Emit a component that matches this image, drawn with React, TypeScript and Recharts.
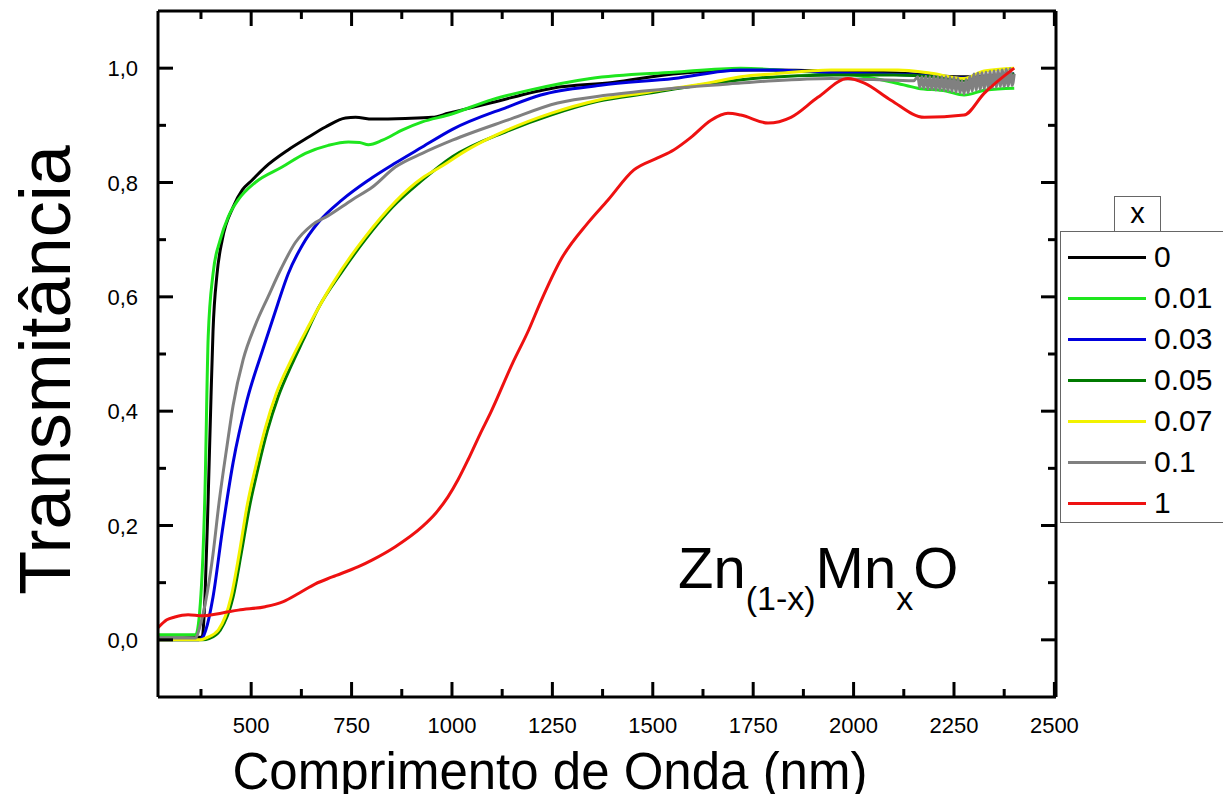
import React from 'react';
import { LineChart, Line, XAxis, YAxis, Legend } from 'recharts';

// [comprimento de onda (nm), transmitância]
const curveX0 = [
  [270, 0.003], [330, 0.003], [378, 0.005], [385, 0.075], [393, 0.25], [400, 0.425],
  [405, 0.54], [415, 0.64], [428, 0.7], [455, 0.757], [478, 0.787], [502, 0.804],
  [535, 0.827], [592, 0.857], [642, 0.879], [685, 0.897], [735, 0.913], [760, 0.914],
  [802, 0.911], [884, 0.912], [951, 0.914], [991, 0.921], [1100, 0.94], [1250, 0.965],
  [1400, 0.975], [1550, 0.99], [1750, 0.997], [1950, 0.995], [2150, 0.99], [2270, 0.985],
  [2400, 0.99],
];
const curveX001 = [
  [270, 0.009], [362, 0.009], [375, 0.08], [385, 0.26], [393, 0.53], [405, 0.64],
  [423, 0.7], [443, 0.74], [468, 0.77], [510, 0.8], [577, 0.827], [635, 0.851],
  [692, 0.865], [742, 0.871], [770, 0.87], [792, 0.866], [827, 0.874], [877, 0.892],
  [926, 0.906], [991, 0.918], [1100, 0.945], [1196, 0.962], [1345, 0.982], [1552, 0.993],
  [1719, 1.0], [1850, 0.995], [2000, 0.988], [2100, 0.975], [2160, 0.965], [2230, 0.96],
  [2275, 0.953], [2330, 0.962], [2400, 0.965],
];
const curveX003 = [
  [270, 0.0], [370, 0.0], [380, 0.005], [387, 0.017], [405, 0.075], [428, 0.19],
  [455, 0.31], [490, 0.42], [530, 0.51], [565, 0.585], [592, 0.64], [627, 0.69],
  [667, 0.73], [727, 0.77], [792, 0.804], [859, 0.834], [926, 0.862], [1001, 0.893],
  [1138, 0.932], [1221, 0.953], [1370, 0.97], [1552, 0.982], [1719, 0.997], [1800, 0.997],
  [1950, 0.992], [2150, 0.988], [2270, 0.983], [2400, 0.99],
];
const curveX005 = [
  [270, 0.0], [380, 0.0], [395, 0.002], [423, 0.017], [455, 0.075], [475, 0.15],
  [495, 0.23], [517, 0.3], [540, 0.365], [567, 0.425], [600, 0.48], [630, 0.525],
  [667, 0.58], [727, 0.645], [784, 0.7], [852, 0.757], [926, 0.804], [1001, 0.845],
  [1138, 0.89], [1246, 0.918], [1363, 0.942], [1488, 0.956], [1652, 0.974], [1750, 0.982],
  [1950, 0.988], [2100, 0.988], [2200, 0.985], [2275, 0.978], [2400, 0.99],
];
const curveX007 = [
  [270, 0.0], [375, 0.0], [390, 0.004], [418, 0.017], [450, 0.075], [470, 0.15],
  [490, 0.235], [512, 0.305], [535, 0.37], [562, 0.43], [600, 0.49], [640, 0.545],
  [700, 0.62], [784, 0.705], [926, 0.808], [971, 0.827], [1038, 0.857], [1138, 0.892],
  [1246, 0.921], [1363, 0.944], [1488, 0.958], [1652, 0.976], [1719, 0.985], [1800, 0.99],
  [1944, 0.997], [2111, 0.997], [2193, 0.991], [2275, 0.982], [2325, 0.995], [2400, 1.0],
];
const curveX01 = [
  [270, 0.003], [360, 0.003], [375, 0.03], [390, 0.08], [405, 0.15], [420, 0.24],
  [440, 0.34], [455, 0.41], [480, 0.49], [510, 0.55], [542, 0.6], [575, 0.65],
  [610, 0.695], [652, 0.726], [692, 0.742], [752, 0.77], [802, 0.792], [859, 0.827],
  [926, 0.851], [1001, 0.874], [1138, 0.909], [1263, 0.939], [1388, 0.953], [1552, 0.965],
  [1719, 0.974], [1800, 0.978], [1944, 0.982], [2050, 0.98], [2150, 0.978],
  [2160, 0.985], [2165, 0.966], [2170, 0.985], [2175, 0.965], [2180, 0.986], [2185, 0.964],
  [2190, 0.985], [2195, 0.963], [2200, 0.986], [2205, 0.962], [2210, 0.985], [2215, 0.962],
  [2220, 0.985], [2225, 0.961], [2230, 0.985], [2235, 0.96], [2240, 0.984], [2245, 0.959],
  [2250, 0.984], [2255, 0.958], [2260, 0.982], [2265, 0.957], [2270, 0.978], [2275, 0.955],
  [2280, 0.98], [2285, 0.957], [2290, 0.986], [2295, 0.96], [2300, 0.99], [2305, 0.962],
  [2310, 0.991], [2315, 0.963], [2320, 0.992], [2325, 0.964], [2330, 0.993], [2335, 0.965],
  [2340, 0.994], [2345, 0.966], [2350, 0.995], [2355, 0.967], [2360, 0.996], [2365, 0.968],
  [2370, 0.997], [2375, 0.968], [2380, 0.998], [2385, 0.969], [2390, 0.999], [2395, 0.97],
  [2400, 0.99],
];
const curveX1 = [
  [268, 0.021], [290, 0.035], [310, 0.04], [343, 0.044], [378, 0.042], [428, 0.047],
  [468, 0.052], [535, 0.058], [580, 0.067], [620, 0.082], [660, 0.098], [702, 0.11],
  [767, 0.128], [802, 0.14], [859, 0.163], [926, 0.198], [960, 0.222], [990, 0.25],
  [1015, 0.28], [1040, 0.315], [1070, 0.36], [1096, 0.397], [1151, 0.484], [1191, 0.542],
  [1220, 0.59], [1271, 0.665], [1338, 0.729], [1388, 0.769], [1453, 0.822], [1512, 0.843],
  [1552, 0.857], [1595, 0.879], [1645, 0.909], [1687, 0.921], [1719, 0.918], [1787, 0.904],
  [1844, 0.914], [1911, 0.949], [1986, 0.982], [2027, 0.974], [2093, 0.944], [2176, 0.914],
  [2275, 0.918], [2325, 0.956], [2400, 1.0],
];

const seriesNames = ['0', '0.01', '0.03', '0.05', '0.07', '0.1', '1'];
const seriesColors = ['#000000', '#1ee61e', '#0000dd', '#007a00', '#f2f200', '#808080', '#ee1111'];
const seriesData = [curveX0, curveX001, curveX003, curveX005, curveX007, curveX01, curveX1];

const xTicks = [375, 500, 625, 750, 875, 1000, 1125, 1250, 1375, 1500, 1625, 1750, 1875, 2000, 2125, 2250, 2375, 2500];
const yTicks = [0, 0.1, 0.2, 0.3, 0.4, 0.5, 0.6, 0.7, 0.8, 0.9, 1.0];

const FONT = "'Liberation Sans', Arial, sans-serif";
const MAJOR = 15;
const MINOR = 8;

const isMajorX = (v: number) => v % 250 === 0;
const isMajorY = (v: number) => Math.round(v * 10) % 2 === 0;

const BottomTick = ({ x, y, payload }: any) => {
  const major = isMajorX(payload.value);
  return (
    <g>
      <line x1={x} x2={x} y1={y} y2={y - (major ? MAJOR : MINOR)} stroke="#000" strokeWidth={3} />
      {major && (
        <text x={x} y={y + 36} textAnchor="middle" fontSize={22} fontFamily={FONT} fill="#000">
          {payload.value}
        </text>
      )}
    </g>
  );
};

const TopTick = ({ x, y, payload }: any) => (
  <line x1={x} x2={x} y1={y} y2={y + (isMajorX(payload.value) ? MAJOR : MINOR)} stroke="#000" strokeWidth={3} />
);

const LeftTick = ({ x, y, payload }: any) => {
  const major = isMajorY(payload.value);
  return (
    <g>
      <line x1={x} x2={x + (major ? MAJOR : MINOR)} y1={y} y2={y} stroke="#000" strokeWidth={3} />
      {major && (
        <text x={x - 20} y={y + 8} textAnchor="end" fontSize={22} fontFamily={FONT} fill="#000">
          {payload.value.toFixed(1).replace('.', ',')}
        </text>
      )}
    </g>
  );
};

const RightTick = ({ x, y, payload }: any) => (
  <line x1={x} x2={x - (isMajorY(payload.value) ? MAJOR : MINOR)} y1={y} y2={y} stroke="#000" strokeWidth={3} />
);

const LegendBox = () => (
  <div style={{ position: 'relative', width: 170, height: 336, fontFamily: FONT }}>
    <div
      style={{
        position: 'absolute', left: 54, top: 0, width: 45, height: 35, border: '1px solid #666',
        borderBottom: 'none', background: '#fff', fontSize: 29, lineHeight: '32px', textAlign: 'center',
      }}
    >
      x
    </div>
    <div
      style={{
        position: 'absolute', left: 0, top: 35, width: 166, height: 290, border: '1px solid #666',
        background: '#fff',
      }}
    >
      {seriesNames.map((name, i) => (
        <div key={name} style={{ position: 'absolute', left: 7, top: 25 + i * 41 - 16, height: 32, display: 'flex', alignItems: 'center' }}>
          <div style={{ width: 78, height: 3, background: seriesColors[i] }} />
          <span style={{ marginLeft: 8, fontSize: 30, color: '#000' }}>{name}</span>
        </div>
      ))}
    </div>
  </div>
);

export default function App() {
  return (
    <div style={{ position: 'relative', width: 1215, height: 786, fontFamily: FONT }}>
      <LineChart width={1215} height={786} margin={{ top: 2, right: 166, bottom: 57, left: 0 }}>
        <XAxis
          xAxisId="b" type="number" dataKey="nm" domain={[268, 2504]} allowDataOverflow ticks={xTicks}
          interval={0} height={40} tickSize={0} tickMargin={0} tickLine={false}
          axisLine={{ stroke: '#000', strokeWidth: 3 }} tick={(p: any) => <BottomTick {...p} />}
        />
        <XAxis
          xAxisId="t" orientation="top" type="number" dataKey="nm" domain={[268, 2504]} allowDataOverflow
          ticks={xTicks} interval={0} height={1} tickSize={0} tickMargin={0} tickLine={false}
          axisLine={{ stroke: '#000', strokeWidth: 3 }} tick={(p: any) => <TopTick {...p} />}
        />
        <YAxis
          yAxisId="l" type="number" domain={[-0.1, 1.1]} allowDataOverflow ticks={yTicks} interval={0}
          width={150} tickSize={0} tickMargin={0} tickLine={false}
          axisLine={{ stroke: '#000', strokeWidth: 3 }} tick={(p: any) => <LeftTick {...p} />}
        />
        <YAxis
          yAxisId="r" orientation="right" type="number" domain={[-0.1, 1.1]} allowDataOverflow ticks={yTicks}
          interval={0} width={1} tickSize={0} tickMargin={0} tickLine={false}
          axisLine={{ stroke: '#000', strokeWidth: 3 }} tick={(p: any) => <RightTick {...p} />}
        />
        {seriesData.map((d, i) => (
          <Line
            key={seriesNames[i]}
            xAxisId="b"
            yAxisId="l"
            name={seriesNames[i]}
            data={d.map(([nm, t]) => ({ nm, t }))}
            dataKey="t"
            type="monotone"
            stroke={seriesColors[i]}
            strokeWidth={3}
            dot={false}
            isAnimationActive={false}
          />
        ))}
        <Legend
          layout="vertical" align="center" verticalAlign="middle"
          wrapperStyle={{ left: 1052, top: 188, width: 170, height: 336 }}
          content={() => <LegendBox />}
        />
      </LineChart>

      {/* annotation */}
      <div style={{ position: 'absolute', left: 670, top: 531, fontSize: 58, lineHeight: 1, whiteSpace: 'nowrap', color: '#000' }}>
        Zn<span style={{ fontSize: 34, position: 'relative', top: 22 }}>(1-x)</span>Mn
        <span style={{ fontSize: 34, position: 'relative', top: 22 }}>x</span>O
      </div>

      {/* axis titles */}
      <div style={{ position: 'absolute', left: 542, top: 738, transform: 'translateX(-50%)', fontSize: 51, lineHeight: 1, whiteSpace: 'nowrap' }}>
        Comprimento de Onda (nm)
      </div>
      <div style={{ position: 'absolute', left: 37, top: 362, transform: 'translate(-50%, -50%) rotate(-90deg)', fontSize: 72, lineHeight: 1, whiteSpace: 'nowrap' }}>
        Transmitância
      </div>
    </div>
  );
}
